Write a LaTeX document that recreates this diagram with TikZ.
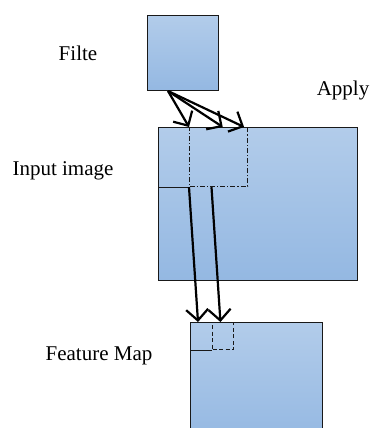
\documentclass[tikz,border=0pt]{standalone}
\usepackage{fontspec}
\setmainfont{Liberation Serif}
\usetikzlibrary{calc,arrows.meta}
\definecolor{mapTop}{RGB}{178,204,234}
\definecolor{mapBottom}{RGB}{148,184,226}
\definecolor{edgeGray}{RGB}{25,25,25}
\tikzset{
  mapbox/.style={draw=edgeGray,line width=1.2pt,top color=mapTop,bottom color=mapBottom,inner sep=0pt,anchor=north west},
  window/.style={draw=edgeGray,line width=1.2pt,inner sep=0pt,anchor=north west},
  slide/.style={line width=2.2pt,-{Straight Barb[length=11pt,width=22pt,line width=2.2pt]}},
  lbl/.style={font=\fontsize{21}{25}\selectfont,anchor=base}
}

\begin{document}
\begin{tikzpicture}[x=1pt,y=-1pt]
\useasboundingbox (0,0) rectangle (373,428);
\clip (0,0) rectangle (373,428);
% maps
\node[mapbox,minimum width=71pt,minimum height=75pt] (filt) at (147,15) {};
\node[mapbox,minimum width=199pt,minimum height=153pt] (inp) at (158,127) {};
\node[mapbox,minimum width=132pt,minimum height=120pt] (fmap) at (190,322) {};
% receptive windows
\node[window,dash pattern=on 5pt off 2pt on 1.2pt off 2pt,minimum width=58pt,minimum height=59pt] (win) at (189,127) {};
\draw[edgeGray,line width=1.2pt] (inp.west |- win.south) -- (win.south west);
\node[window,dash pattern=on 4pt off 2.5pt,minimum width=21pt,minimum height=27pt] (fwin) at (212,322) {};
\draw[edgeGray,line width=1.2pt] (fmap.west |- fwin.south) -- (fwin.south west);
% sliding arrows
\coordinate (src) at (168,91);
\draw[slide] (src) -- (win.north west);
\draw[slide] (src) -- ($(win.north west)!0.57!(win.north east)$);
\draw[slide] (src) -- ($(win.north west)!0.93!(win.north east)$);
\draw[slide] (win.south west) -- ($(fmap.north west)+(8,0)$);
\draw[slide] ($(win.south west)!0.38!(win.south east)$) -- ($(fwin.north west)!0.38!(fwin.north east)$);
% labels
\node[lbl] (filtlbl) at (78,60) {Filte};
\node[lbl] (applylbl) at (343,95) {Apply};
\node[lbl] (inplbl) at (63,175) {Input image};
\node[lbl] (fmaplbl) at (99,360) {Feature Map};
\end{tikzpicture}
\end{document}
